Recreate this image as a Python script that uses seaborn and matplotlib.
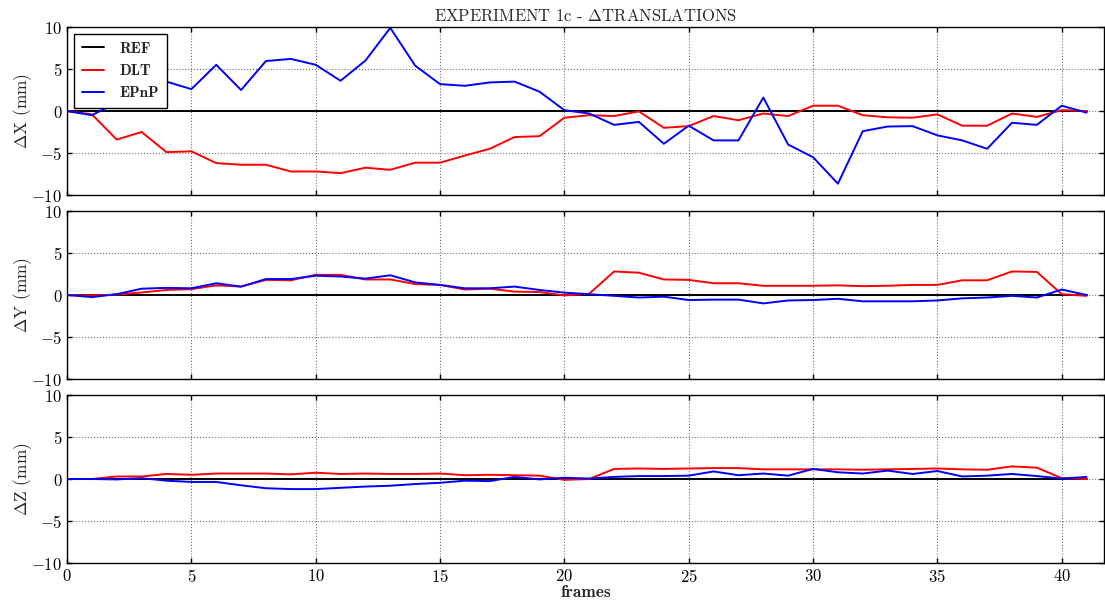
import numpy as np
import pandas as pd
import matplotlib
matplotlib.use("Agg")
import matplotlib.pyplot as plt
from matplotlib.lines import Line2D
import seaborn as sns

frames = list(range(42))

dx_dlt = [0, -0.4, -3.4, -2.5, -4.9, -4.8, -6.2, -6.4, -6.4, -7.2, -7.2, -7.4, -6.75, -7.0, -6.15,
          -6.15, -5.3, -4.5, -3.1, -3.0, -0.8, -0.5, -0.6, -0.05, -2.0, -1.8, -0.6, -1.1, -0.3, -0.6,
          0.63, 0.63, -0.5, -0.75, -0.8, -0.4, -1.75, -1.75, -0.3, -0.7, 0.1, 0.0]
dx_epnp = [0, -0.5, 1.0, 3.2, 3.5, 2.6, 5.5, 2.5, 5.95, 6.2, 5.5, 3.6, 6.0, 9.9, 5.4, 3.2, 3.0,
           3.4, 3.5, 2.3, 0.1, -0.3, -1.65, -1.3, -3.9, -1.75, -3.5, -3.5, 1.6, -4.0, -5.5, -8.65,
           -2.4, -1.85, -1.8, -2.9, -3.5, -4.5, -1.4, -1.65, 0.63, -0.2]
dy_dlt = [0, -0.05, 0.05, 0.3, 0.6, 0.7, 1.15, 1.0, 1.8, 1.75, 2.4, 2.4, 1.85, 1.85, 1.3, 1.2, 0.65,
          0.75, 0.4, 0.35, -0.05, 0.15, 2.8, 2.65, 1.85, 1.8, 1.4, 1.4, 1.1, 1.1, 1.1, 1.15, 1.05,
          1.1, 1.2, 1.2, 1.75, 1.75, 2.8, 2.75, 0.1, -0.1]
dy_epnp = [0, -0.25, 0.1, 0.75, 0.85, 0.8, 1.4, 1.0, 1.9, 1.9, 2.3, 2.2, 1.95, 2.35, 1.5, 1.2, 0.8,
           0.8, 1.0, 0.6, 0.28, 0.1, -0.1, -0.3, -0.2, -0.6, -0.55, -0.55, -1.0, -0.65, -0.6, -0.45,
           -0.75, -0.75, -0.75, -0.65, -0.4, -0.3, -0.1, -0.3, 0.65, 0.0]
dz_dlt = [0, 0, 0.3, 0.3, 0.6, 0.5, 0.65, 0.65, 0.65, 0.55, 0.75, 0.6, 0.65, 0.6, 0.6, 0.65, 0.45,
          0.5, 0.45, 0.4, -0.1, 0.0, 1.2, 1.25, 1.2, 1.25, 1.3, 1.3, 1.15, 1.15, 1.15, 1.15, 1.1,
          1.15, 1.2, 1.25, 1.15, 1.1, 1.5, 1.35, 0.1, 0.0]
dz_epnp = [0, 0, -0.05, 0.1, -0.2, -0.35, -0.35, -0.75, -1.1, -1.2, -1.2, -1.05, -0.9, -0.8, -0.6,
           -0.45, -0.2, -0.25, 0.25, -0.05, 0.15, 0.05, 0.25, 0.35, 0.35, 0.4, 0.9, 0.45, 0.65, 0.4,
           1.2, 0.8, 0.65, 1.0, 0.6, 0.95, 0.3, 0.4, 0.6, 0.35, 0.05, 0.25]
ref = [0.0] * 42

methods = ["REF", "DLT", "EPnP"]
colors = {"REF": "black", "DLT": "red", "EPnP": "blue"}
panel_labels = [r"$\Delta$X (mm)", r"$\Delta$Y (mm)", r"$\Delta$Z (mm)"]
title = r"EXPERIMENT 1c - $\Delta$TRANSLATIONS"
xticks = [0, 5, 10, 15, 20, 25, 30, 35, 40]
yticks = [-10, -5, 0, 5, 10]

sns.set_style("white")
plt.rcParams.update({
    "font.family": "serif",
    "font.serif": ["cmr10"],
    "mathtext.fontset": "cm",
    "axes.formatter.use_mathtext": True,
    "xtick.direction": "in",
    "ytick.direction": "in",
    "xtick.top": True,
    "ytick.right": True,
    "xtick.major.size": 3.5,
    "ytick.major.size": 3.5,
    "xtick.bottom": True,
    "ytick.left": True,
    "axes.edgecolor": "black",
    "axes.linewidth": 1.0,
})

fig = plt.figure(figsize=(11.05, 6.02), dpi=100)
W, H = 1105.0, 602.0
left, right = 67 / W, 1104 / W
tops = [27, 211, 395]
h = 168

series = [(dx_dlt, dx_epnp), (dy_dlt, dy_epnp), (dz_dlt, dz_epnp)]
axes = []
for i, (dlt, epnp) in enumerate(series):
    ax = fig.add_axes([left, 1 - (tops[i] + h) / H, right - left, h / H])
    df = pd.DataFrame({
        "frame": frames * 3,
        "value": ref + list(dlt) + list(epnp),
        "method": ["REF"] * 42 + ["DLT"] * 42 + ["EPnP"] * 42,
    })
    sns.lineplot(data=df, x="frame", y="value", hue="method", hue_order=methods,
                 palette=colors, estimator=None, legend=False, linewidth=1.4, ax=ax)
    ax.set_xlim(0, 41.7)
    ax.set_ylim(-10, 10)
    ax.set_xticks(xticks)
    ax.set_yticks(yticks)
    ax.grid(True, linestyle=":", color="0.45", linewidth=0.8)
    ax.set_ylabel(panel_labels[i], fontsize=12.5, labelpad=-2)
    ax.tick_params(labelsize=12, colors="black", width=1.0)
    for s in ax.spines.values():
        s.set_visible(True)
        s.set_color("black")
    if i < 2:
        ax.set_xlabel("")
        ax.tick_params(labelbottom=False)
    else:
        ax.set_xlabel("frames", fontsize=12.5, labelpad=0, family="cmb10")
    axes.append(ax)

axes[0].set_title(title, fontsize=12, pad=4)
handles = [Line2D([], [], color=colors[m], linewidth=1.4) for m in methods]
leg = axes[0].legend(handles, methods, loc="upper left", fancybox=False,
                     prop={"family": "cmb10", "size": 11},
                     framealpha=1.0, edgecolor="black", handlelength=1.5,
                     handletextpad=1.0, borderpad=0.5, labelspacing=0.55,
                     borderaxespad=0.45)
leg.get_frame().set_linewidth(1.0)

fig.savefig("out.png", dpi=100)
